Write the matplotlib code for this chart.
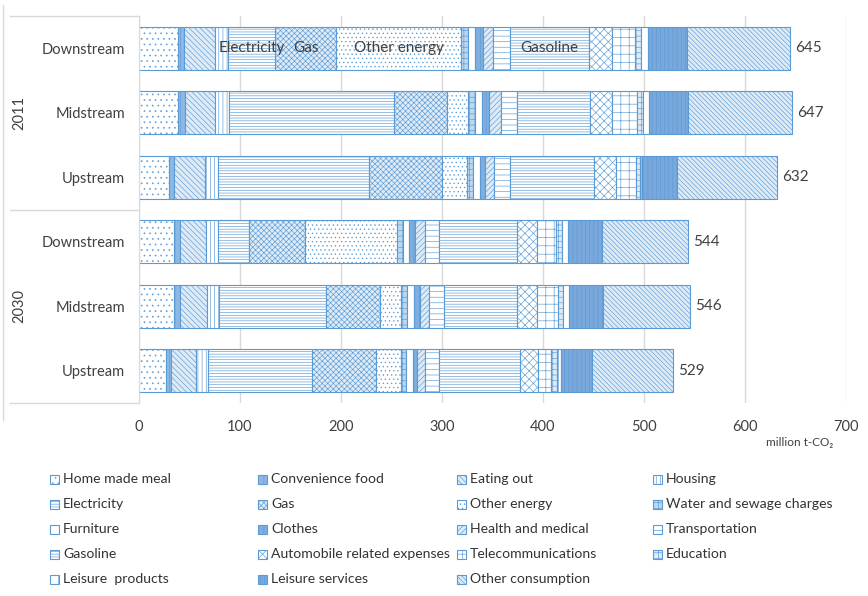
import numpy as np
import matplotlib
matplotlib.use('Agg')
import matplotlib.pyplot as plt
from matplotlib.patches import Rectangle
from matplotlib.lines import Line2D

plt.rcParams['font.family'] = ['Lato', 'DejaVu Sans']
plt.rcParams['hatch.linewidth'] = 0.45

categories = ['Home made meal', 'Convenience food', 'Eating out', 'Housing',
              'Electricity', 'Gas', 'Other energy', 'Water and sewage charges',
              'Furniture', 'Clothes', 'Health and medical', 'Transportation',
              'Gasoline', 'Automobile related expenses', 'Telecommunications', 'Education',
              'Leisure  products', 'Leisure services', 'Other consumption']

row_labels = ['Downstream', 'Midstream', 'Upstream', 'Downstream', 'Midstream', 'Upstream']
years = ['2011', '2030']

# million t-CO2 per category, same order as categories
down_2011 = [39, 6, 30, 13, 47, 60, 124, 7, 6.5, 8, 10, 16.5, 79, 22, 23, 6.5, 6, 39.5, 102]
mid_2011 = [39, 6.5, 29.5, 14, 163, 53, 21, 7, 7, 7, 11, 16.5, 72, 22, 24.5, 6, 5.5, 39.5, 103]
up_2011 = [30, 5, 30.5, 13, 149, 72.5, 25, 6, 6.5, 5, 9, 16, 83, 21.5, 20, 4, 2.5, 34.5, 99]
down_2030 = [35, 6, 25.5, 12, 30.5, 55, 91, 6, 6.5, 5.5, 10, 14.5, 77, 19.5, 19, 6, 6, 33.5, 85.5]
mid_2030 = [35, 6, 26, 12, 106, 54, 20.5, 6, 7, 5.5, 9, 15, 72.5, 20, 20, 5.5, 6, 33, 87]
up_2030 = [26.5, 5, 25, 11.5, 103, 64, 24, 5, 7, 4, 8.5, 14, 80, 18, 12.5, 6, 4, 30.5, 80.5]

# segments labelled inside the top bar
inside_labels = ['Electricity', 'Gas', 'Other energy', 'Gasoline']

data = np.array([down_2011, mid_2011, up_2011, down_2030, mid_2030, up_2030])

blue = '#5B9BD5'
styles = [
    ('white', '...'),
    ('#8DB8E3', '|||'),
    ('#DEEBF7', '\\\\\\\\\\\\'),
    ('white', '||||'),
    ('white', '------'),
    ('#DEEBF7', 'xxxxxx'),
    ('white', '....'),
    ('#BDD7EE', '+++'),
    ('white', ''),
    ('#7FAEDF', '|||'),
    ('#DEEBF7', '//////'),
    ('white', '---'),
    ('white', '------'),
    ('white', 'xxxx'),
    ('white', '++'),
    ('#DEEBF7', '+++'),
    ('white', '|'),
    ('#79A8DC', '||||'),
    ('#DEEBF7', '\\\\\\\\\\\\\\'),
]

fig = plt.figure(figsize=(8.68, 5.96), dpi=100)
ax = fig.add_axes([139 / 868, 1 - 403 / 596, 707 / 868, 387 / 596])

y = np.arange(len(row_labels))
left = np.zeros(len(row_labels))
for i, cat in enumerate(categories):
    fc, h = styles[i]
    ax.barh(y, data[:, i], left=left, height=0.67, color=fc, edgecolor=blue,
            hatch=h, linewidth=0.8, zorder=2)
    if cat in inside_labels:
        ax.text(left[0] + data[0, i] / 2, y[0], cat, ha='center', va='center',
                fontsize=11, color='#404040', zorder=3)
    left += data[:, i]

for yy, tot in zip(y, left):
    ax.text(tot + 5, yy, '%d' % round(tot), va='center', ha='left',
            fontsize=11, color='#404040')

ax.set_xlim(0, 700)
ax.set_ylim(5.5, -0.5)
ax.set_xticks(np.arange(0, 701, 100))
ax.xaxis.grid(True, color='#D9D9D9', linewidth=1, zorder=0)
ax.set_axisbelow(True)
ax.set_yticks(y)
ax.set_yticklabels(row_labels)
ax.tick_params(axis='both', length=0, labelsize=10.5, labelcolor='#404040')
ax.tick_params(axis='x', pad=12)
ax.tick_params(axis='y', pad=10)
for s in ['top', 'right', 'bottom']:
    ax.spines[s].set_visible(False)
ax.spines['left'].set_color('#D9D9D9')

# year group labels and separators
for k, yr in enumerate(years):
    fig.text(19 / 868, 1 - (112.5 + k * 193.5) / 596, yr, rotation=90,
             ha='center', va='center', fontsize=10.5, color='#404040')
for ypx in [16, 209.5, 403]:
    fig.add_artist(Line2D([10 / 868, 139 / 868], [1 - ypx / 596] * 2,
                          color='#D9D9D9', linewidth=1))
fig.add_artist(Line2D([3 / 868, 3 / 868], [1 - 5 / 596, 1 - 420 / 596],
                      color='#D9D9D9', linewidth=1))

fig.text(800 / 868, 1 - 443 / 596, 'million t-CO\u2082', ha='center', va='center',
         fontsize=8.5, color='#404040')

# legend laid out row by row, 4 columns
col_x = [50, 258, 457, 653]
for i, cat in enumerate(categories):
    cx = col_x[i % 4]
    cy = 479 + 25 * (i // 4)
    fc, h = styles[i]
    fig.add_artist(Rectangle((cx / 868, 1 - (cy + 4.5) / 596), 9 / 868, 9 / 596,
                             facecolor=fc, edgecolor=blue, hatch=h, linewidth=0.8,
                             transform=fig.transFigure))
    fig.text((cx + 13) / 868, 1 - cy / 596, cat, ha='left', va='center',
             fontsize=10.1, color='#333333')

plt.savefig('out.png', dpi=100)
